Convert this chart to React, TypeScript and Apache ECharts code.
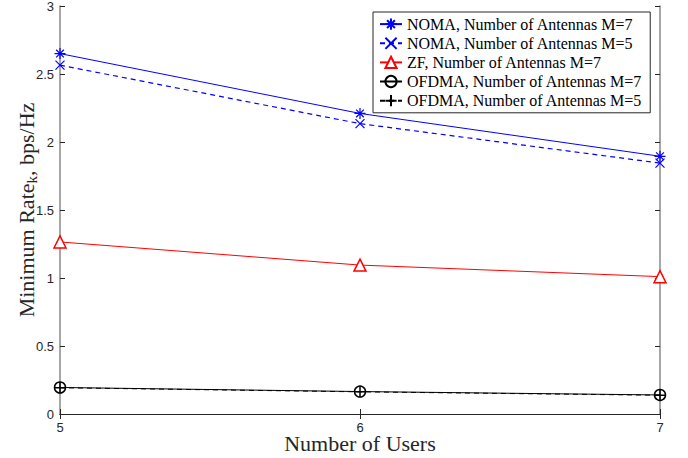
import React, { useEffect, useRef } from "react";
import * as echarts from "echarts";

const users = [5, 6, 7];
const nomaM7 = [2.65, 2.21, 1.895];
const nomaM5 = [2.565, 2.135, 1.845];
const zfM7 = [1.265, 1.095, 1.01];
const ofdmaM7 = [0.195, 0.165, 0.14];
const ofdmaM5 = [0.193, 0.163, 0.138];
const seriesNames = [
  "NOMA, Number of Antennas M=7",
  "NOMA, Number of Antennas M=5",
  "ZF, Number of Antennas M=7",
  "OFDMA, Number of Antennas M=7",
  "OFDMA, Number of Antennas M=5",
];
const yTicks = [0, 0.5, 1, 1.5, 2, 2.5, 3];

const starPath = "path://M5,0L5,10M0,5L10,5M1.5,1.5L8.5,8.5M1.5,8.5L8.5,1.5";
const crossPath = "path://M0,0L10,10M0,10L10,0";
const plusPath = "path://M5,0L5,10M0,5L10,5";

const pair = (ys: number[]) => users.map((u, i) => [u, ys[i]]);

export default function App() {
  const ref = useRef<HTMLDivElement>(null);
  useEffect(() => {
    const chart = echarts.init(ref.current!, undefined, { renderer: "svg" });
    const serif = "Liberation Serif";
    const sans = "Liberation Sans";
    const axisCommon = {
      type: "value" as const,
      splitLine: { show: false },
      axisTick: { show: true, inside: true, length: 5, lineStyle: { color: "#262626" } },
    };
    chart.setOption({
      animation: false,
      backgroundColor: "#ffffff",
      grid: { left: 60, right: 28, top: 6, bottom: 44, outerBoundsMode: "none", containLabel: false },
      legend: {
        orient: "vertical",
        left: 373,
        top: 12,
        padding: [4, 8, 4, 6],
        itemGap: 3,
        itemWidth: 22,
        itemHeight: 14,
        borderColor: "#262626",
        borderWidth: 1,
        backgroundColor: "#ffffff",
        textStyle: { fontFamily: serif, fontSize: 16, color: "#000" },
        data: seriesNames,
      },
      xAxis: [
        {
          ...axisCommon,
          min: 5,
          max: 7,
          interval: 1,
          name: "Number of Users",
          nameLocation: "middle",
          nameGap: 18,
          nameMoveOverlap: false,
          nameTextStyle: { fontFamily: serif, fontSize: 22, color: "#262626" },
          axisLine: { show: true, lineStyle: { color: "#262626", width: 1 } },
          axisLabel: { fontFamily: sans, fontSize: 13, color: "#262626", margin: 7 },
        },
        {
          ...axisCommon,
          position: "top",
          min: 5,
          max: 7,
          interval: 1,
          axisLine: { show: true, lineStyle: { color: "#262626", width: 1 } },
          axisLabel: { show: false },
        },
      ],
      yAxis: [
        {
          ...axisCommon,
          min: 0,
          max: 3,
          interval: 0.5,
          name: "{a|Minimum Rate}{s|k}{a|, bps/Hz}",
          nameLocation: "middle",
          nameGap: 21,
          nameMoveOverlap: false,
          nameTextStyle: {
            rich: {
              a: { fontFamily: serif, fontSize: 22, color: "#262626", lineHeight: 26 },
              s: { fontFamily: serif, fontSize: 15, color: "#262626", lineHeight: 26, padding: [12, 0, 0, 0] },
            },
          },
          axisLine: { show: true, lineStyle: { color: "#8a8a8a", width: 1.5 } },
          axisLabel: {
            fontFamily: sans,
            fontSize: 13,
            color: "#262626",
            margin: 6,
            formatter: (v: number) => (yTicks.includes(v) ? String(v) : ""),
          },
        },
        {
          ...axisCommon,
          position: "right",
          min: 0,
          max: 3,
          interval: 0.5,
          axisLine: { show: true, lineStyle: { color: "#8a8a8a", width: 1.5 } },
          axisLabel: { show: false },
        },
      ],
      series: [
        {
          name: seriesNames[0],
          type: "line",
          data: pair(nomaM7),
          symbol: starPath,
          symbolSize: 11,
          lineStyle: { color: "#0000ff", width: 1 },
          itemStyle: { color: "none", borderColor: "#0000ff", borderWidth: 1.2 },
        },
        {
          name: seriesNames[1],
          type: "line",
          data: pair(nomaM5),
          symbol: crossPath,
          symbolSize: 9,
          lineStyle: { color: "#0000ff", width: 1.2, type: [5, 4] },
          itemStyle: { color: "none", borderColor: "#0000ff", borderWidth: 1.2 },
        },
        {
          name: seriesNames[2],
          type: "line",
          data: pair(zfM7),
          symbol: "triangle",
          symbolSize: 12,
          lineStyle: { color: "#ff0000", width: 1 },
          itemStyle: { color: "#ffffff", borderColor: "#ff0000", borderWidth: 1.5 },
        },
        {
          name: seriesNames[3],
          type: "line",
          data: pair(ofdmaM7),
          symbol: "circle",
          symbolSize: 11,
          lineStyle: { color: "#000000", width: 1 },
          itemStyle: { color: "none", borderColor: "#000000", borderWidth: 1.5 },
        },
        {
          name: seriesNames[4],
          type: "line",
          data: pair(ofdmaM5),
          symbol: plusPath,
          symbolSize: 11,
          lineStyle: { color: "#000000", width: 1, type: [5, 4] },
          itemStyle: { color: "none", borderColor: "#000000", borderWidth: 1.5 },
        },
      ],
    });
    return () => chart.dispose();
  }, []);
  return <div ref={ref} style={{ width: 688, height: 458, position: "absolute", left: 0, top: 0 }} />;
}
